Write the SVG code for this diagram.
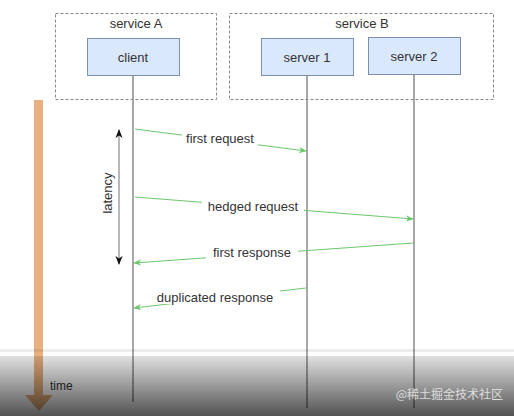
<svg xmlns="http://www.w3.org/2000/svg" width="514" height="416" viewBox="0 0 514 416">
<defs>
<style>
text{font-family:"Liberation Sans",Arial,sans-serif;fill:#333;}
.grp{fill:none;stroke:#888;stroke-width:1;stroke-dasharray:3 2;}
.box{fill:#dae8fc;stroke:#7d90b4;stroke-width:1;}
.life{stroke:#8a8a8a;stroke-width:1.5;fill:none;}
.msg{stroke:#6cc76c;stroke-width:1;fill:none;marker-end:url(#ga);}
.lbl{font-size:13px;text-anchor:middle;}
.lblbg{fill:#fff;}
</style>
<marker id="ga" viewBox="0 0 10 10" refX="9" refY="5" markerWidth="8" markerHeight="8" orient="auto" markerUnits="userSpaceOnUse">
<path d="M0,1 L10,5 L0,9 L3,5 Z" fill="#6cc76c"/>
</marker>
<marker id="ba" viewBox="0 0 10 10" refX="9" refY="5" markerWidth="9" markerHeight="9" orient="auto-start-reverse" markerUnits="userSpaceOnUse">
<path d="M0,1 L10,5 L0,9 L3,5 Z" fill="#111"/>
</marker>
<linearGradient id="ov" x1="0" y1="0" x2="0" y2="1">
<stop offset="0" stop-color="#000" stop-opacity="0.12"/>
<stop offset="1" stop-color="#000" stop-opacity="0.68"/>
</linearGradient>
</defs>
<rect width="514" height="416" fill="#fff"/>

<g id="serviceA">
<rect class="grp" x="55.5" y="13.5" width="161" height="86"/>
<text x="136" y="28" font-size="13" text-anchor="middle">service A</text>
</g>
<g id="serviceB">
<rect class="grp" x="229.5" y="13.5" width="264" height="86"/>
<text x="362" y="28" font-size="13" text-anchor="middle">service B</text>
</g>
<g id="client">
<rect class="box" x="87.5" y="38.5" width="92" height="37"/>
<text x="133" y="62" font-size="13" text-anchor="middle">client</text>
</g>
<g id="server1">
<rect class="box" x="261.5" y="38.5" width="92" height="37"/>
<text x="307" y="62" font-size="13" text-anchor="middle">server 1</text>
</g>
<g id="server2">
<rect class="box" x="368.5" y="37.5" width="92" height="37"/>
<text x="414" y="61" font-size="13" text-anchor="middle">server 2</text>
</g>

<g id="connectors">
<line class="life" x1="133" y1="75" x2="133" y2="402"/>
<line class="life" x1="307" y1="75" x2="307" y2="408"/>
<line class="life" x1="414" y1="74" x2="414" y2="408"/>

<line x1="119" y1="130" x2="119" y2="264" stroke="#888" stroke-width="1.2" marker-start="url(#ba)" marker-end="url(#ba)"/>

<line class="msg" x1="135" y1="129" x2="306" y2="151"/>
<line class="msg" x1="135" y1="197" x2="413" y2="219"/>
<line class="msg" x1="413" y1="243" x2="134" y2="263"/>
<line class="msg" x1="306" y1="288" x2="134" y2="308"/>

<rect class="lblbg" x="182" y="130" width="76" height="15"/>
<text class="lbl" x="220" y="143">first request</text>
<rect class="lblbg" x="202" y="198" width="102" height="15"/>
<text class="lbl" x="253" y="211">hedged request</text>
<rect class="lblbg" x="206" y="244" width="92" height="15"/>
<text class="lbl" x="252" y="257">first response</text>
<rect class="lblbg" x="150" y="289" width="130" height="15"/>
<text class="lbl" x="215" y="302">duplicated response</text>

<text x="112" y="193" font-size="13" text-anchor="middle" transform="rotate(-90 112 193)">latency</text>
</g>

<g id="time">
<rect x="34" y="100" width="9" height="296" fill="#e8b07e"/>
<path d="M25,395 L53,395 L39,411 Z" fill="#e8b07e"/>
<text x="50" y="390" font-size="12">time</text>
</g>

<rect x="0" y="349" width="514" height="3" fill="#000" opacity="0.07"/>
<rect x="0" y="356" width="514" height="60" fill="url(#ov)"/>
<text x="503" y="399" font-size="12" text-anchor="end" style="font-family:'Noto Sans CJK SC',sans-serif;fill:#e6e6e6;opacity:0.9">@稀土掘金技术社区</text>
</svg>
